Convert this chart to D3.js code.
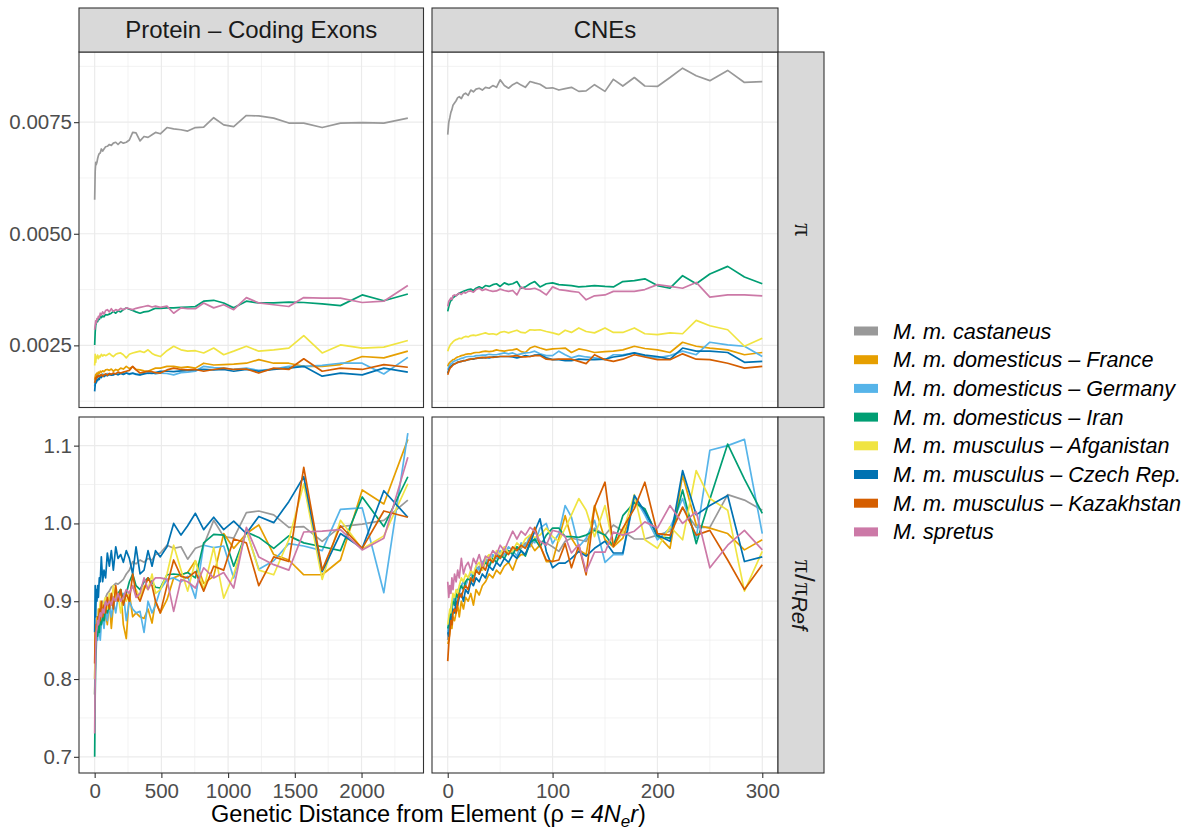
<!DOCTYPE html>
<html>
<head>
<meta charset="utf-8">
<script src="https://cdn.jsdelivr.net/npm/d3@7"></script>
<style>
  body { margin: 0; background: #fff; }
  text { font-family: "Liberation Sans", Arial, Helvetica, sans-serif; }
</style>
</head>
<body>
<svg id="chart" width="1189" height="830"></svg>
<script>
// species, in legend order
var species = ["M. m. castaneus", "M. m. domesticus \u2013 France", "M. m. domesticus \u2013 Germany",
  "M. m. domesticus \u2013 Iran", "M. m. musculus \u2013 Afganistan", "M. m. musculus \u2013 Czech Rep.",
  "M. m. musculus \u2013 Kazakhstan", "M. spretus"];
var colours = ["#999999", "#E69F00", "#56B4E9", "#009E73", "#F0E442", "#0072B2", "#D55E00", "#CC79A7"];

var facetCols = ["Protein \u2013 Coding Exons", "CNEs"];

// genetic distance (rho = 4Ner) of each bin
var distExons = [0, 4, 8, 12, 17, 22, 28, 35, 42, 50, 60, 70, 82, 95, 110, 125, 140, 158, 175, 195,
  215, 237, 260, 285, 310, 340, 370, 400, 430, 456, 492, 542, 592, 647, 697, 755, 817, 892, 967, 1042,
  1137, 1230, 1342, 1455, 1567, 1705, 1842, 2005, 2167, 2347];
var distCNEs = [0, 1, 2, 3, 4, 5, 6.5, 8, 9.5, 11, 13, 15, 17, 19.5, 22, 24.5, 27, 30, 33, 36,
  39.5, 43, 46.5, 50, 54, 58, 62, 66, 70, 74, 78.5, 83, 88, 94, 100, 106, 112, 118, 125, 132,
  140, 150, 158, 167, 178, 188, 200, 212, 224, 237, 250, 267, 283, 300];

// pi, protein-coding exons (rows follow species order)
var piExons = [
  [0.00576,0.0064,0.0066,0.00655,0.0066,0.00668,0.00675,0.0068,0.00681,0.0069,0.00685,0.0069,0.00695,0.00696,0.007,0.00698,0.00703,0.00705,0.007,0.00706,0.00703,0.00705,0.0071,0.00727,0.00726,0.00708,0.00718,0.00716,0.00722,0.00727,0.00724,0.00738,0.00735,0.00733,0.0073,0.00738,0.00739,0.0076,0.00744,0.0074,0.00765,0.00764,0.00759,0.00748,0.00748,0.00738,0.00748,0.00749,0.00748,0.00759],
  [0.00173,0.0018,0.00185,0.00182,0.00188,0.00185,0.0019,0.00187,0.00192,0.0019,0.00193,0.00191,0.00195,0.00196,0.00194,0.00197,0.00192,0.00196,0.00194,0.00199,0.00197,0.00203,0.00198,0.00202,0.00196,0.00195,0.00193,0.00192,0.00196,0.00199,0.00199,0.00203,0.00203,0.002,0.00202,0.00199,0.0021,0.00206,0.00207,0.00208,0.0021,0.00218,0.0021,0.0021,0.00203,0.00203,0.00207,0.00225,0.00222,0.00237],
  [0.00158,0.0017,0.00176,0.00174,0.00181,0.00179,0.00183,0.00181,0.00184,0.00182,0.00186,0.00183,0.00185,0.00187,0.00184,0.00186,0.00184,0.00187,0.00185,0.00188,0.00186,0.00188,0.00185,0.00187,0.00186,0.00184,0.00188,0.00187,0.00189,0.00186,0.00188,0.00187,0.00184,0.00189,0.0019,0.00192,0.00203,0.002,0.00199,0.00196,0.00199,0.00194,0.00197,0.00203,0.00203,0.00205,0.0021,0.0021,0.00186,0.00223],
  [0.00251,0.0028,0.00295,0.003,0.00307,0.00303,0.0031,0.00308,0.00315,0.00312,0.00316,0.00314,0.00319,0.00318,0.0032,0.00322,0.00326,0.00322,0.00327,0.00325,0.0033,0.00334,0.00331,0.00328,0.00325,0.00322,0.00325,0.00326,0.0033,0.00333,0.00333,0.00334,0.00334,0.00335,0.00336,0.00337,0.00349,0.00351,0.00345,0.00334,0.00349,0.00345,0.00345,0.00347,0.00346,0.00343,0.00339,0.00363,0.0035,0.00365],
  [0.00205,0.0023,0.00212,0.00225,0.00222,0.00228,0.0022,0.00226,0.00224,0.0023,0.00226,0.00229,0.00227,0.00229,0.00232,0.00228,0.00225,0.0023,0.00232,0.00233,0.00229,0.00222,0.0023,0.00233,0.00235,0.00237,0.00234,0.0024,0.00232,0.00228,0.00225,0.00238,0.00248,0.0024,0.00237,0.00238,0.00233,0.00244,0.00229,0.00237,0.00248,0.00237,0.0024,0.00244,0.00272,0.00233,0.00251,0.00244,0.00246,0.00261],
  [0.00147,0.00162,0.00168,0.00166,0.00173,0.00171,0.00176,0.00174,0.00181,0.00178,0.00182,0.0018,0.00183,0.00182,0.00185,0.00183,0.00184,0.00186,0.00184,0.00187,0.00185,0.00188,0.00186,0.00188,0.00185,0.00184,0.00186,0.00188,0.00187,0.00189,0.00192,0.00192,0.00191,0.00193,0.00194,0.00195,0.00196,0.00195,0.00196,0.00192,0.00196,0.00192,0.00196,0.00199,0.00203,0.00181,0.00188,0.00184,0.00199,0.0019],
  [0.00166,0.00172,0.00178,0.00175,0.00181,0.00179,0.00183,0.0018,0.00182,0.00185,0.00181,0.00184,0.00186,0.00183,0.00187,0.00185,0.00188,0.00186,0.0019,0.00188,0.0019,0.00192,0.00194,0.00203,0.00195,0.00188,0.0019,0.00192,0.00191,0.00189,0.00188,0.00195,0.00199,0.00196,0.00195,0.00196,0.00192,0.00196,0.00199,0.00196,0.00197,0.00188,0.00199,0.00196,0.0022,0.00192,0.00199,0.00196,0.00207,0.00201],
  [0.00285,0.00295,0.00305,0.003,0.0031,0.00307,0.00315,0.00312,0.00322,0.00318,0.00325,0.0032,0.00328,0.0033,0.00325,0.00332,0.00326,0.0033,0.00328,0.00333,0.0033,0.00334,0.00332,0.0033,0.00333,0.00335,0.00337,0.00339,0.00336,0.00338,0.00335,0.00338,0.00322,0.00334,0.00332,0.00332,0.00345,0.00334,0.00341,0.0033,0.00357,0.00345,0.00341,0.00337,0.00357,0.00356,0.00356,0.00346,0.00349,0.00384]
];

// pi / pi_Ref, protein-coding exons
var relExons = [
  [0.80,0.84,0.86,0.87,0.88,0.875,0.89,0.885,0.895,0.89,0.9,0.896,0.905,0.91,0.913,0.918,0.92,0.923,0.922,0.925,0.928,0.935,0.94,0.951,0.948,0.953,0.95,0.955,0.953,0.96,0.962,0.972,0.968,0.97,0.954,0.968,0.972,1.004,0.983,0.981,1.014,1.016,1.011,0.995,0.996,0.977,0.996,0.999,1.004,1.03],
  [0.78,0.83,0.86,0.85,0.87,0.86,0.88,0.875,0.89,0.88,0.895,0.87,0.885,0.87,0.9,0.865,0.895,0.91,0.9,0.915,0.87,0.852,0.91,0.88,0.885,0.88,0.878,0.89,0.872,0.9,0.885,0.902,0.93,0.934,0.937,0.952,0.923,0.932,0.987,0.968,0.987,0.998,0.96,0.953,0.934,0.934,0.953,1.043,1.025,1.108],
  [0.78,0.81,0.83,0.84,0.86,0.85,0.87,0.86,0.85,0.87,0.88,0.865,0.89,0.875,0.895,0.88,0.9,0.885,0.905,0.9,0.91,0.875,0.9,0.89,0.885,0.887,0.86,0.9,0.885,0.895,0.915,0.928,0.93,0.925,0.932,0.904,0.972,0.969,0.971,0.93,0.991,0.941,0.952,0.974,0.971,0.965,1.018,1.02,0.911,1.116],
  [0.70,0.78,0.83,0.85,0.86,0.855,0.87,0.86,0.875,0.87,0.88,0.875,0.89,0.885,0.895,0.9,0.905,0.9,0.91,0.915,0.9,0.91,0.925,0.935,0.92,0.915,0.925,0.93,0.925,0.918,0.917,0.934,0.935,0.934,0.937,0.93,0.975,0.986,0.985,0.945,0.989,0.982,0.968,0.984,0.975,0.97,0.965,1.034,0.996,1.06],
  [0.80,0.84,0.86,0.87,0.88,0.87,0.89,0.885,0.9,0.89,0.895,0.9,0.905,0.89,0.91,0.895,0.92,0.9,0.91,0.885,0.905,0.9,0.91,0.92,0.915,0.905,0.92,0.915,0.935,0.91,0.915,0.935,0.972,0.94,0.913,0.952,0.915,0.969,0.904,0.934,0.991,0.94,0.934,0.979,1.051,0.928,1.004,0.967,0.984,1.051],
  [0.86,0.92,0.88,0.915,0.90,0.92,0.905,0.93,0.925,0.957,0.925,0.94,0.93,0.962,0.945,0.965,0.94,0.97,0.955,0.96,0.95,0.965,0.955,0.935,0.97,0.935,0.94,0.965,0.945,0.965,0.957,0.97,1.0,0.985,0.997,1.013,0.992,1.008,0.992,1.003,0.987,1.009,1.001,1.028,1.06,0.938,0.987,0.968,1.042,1.008],
  [0.82,0.86,0.85,0.87,0.865,0.88,0.87,0.89,0.875,0.9,0.88,0.895,0.885,0.905,0.89,0.91,0.89,0.92,0.9,0.915,0.895,0.91,0.9,0.935,0.91,0.9,0.915,0.93,0.92,0.9,0.885,0.92,0.953,0.932,0.93,0.938,0.913,0.945,0.94,0.98,0.975,0.92,0.957,0.951,1.072,0.94,0.997,0.968,1.016,1.008],
  [0.73,0.80,0.84,0.86,0.865,0.875,0.87,0.88,0.885,0.88,0.89,0.885,0.9,0.895,0.9,0.895,0.905,0.9,0.91,0.9,0.905,0.915,0.91,0.92,0.905,0.91,0.93,0.915,0.925,0.93,0.93,0.928,0.887,0.928,0.925,0.917,0.943,0.93,0.937,0.917,0.995,0.957,0.947,0.94,0.989,0.99,0.992,0.966,0.981,1.085]
];

// pi, CNEs
var piCNEs = [
  [0.00722,0.0075,0.0076,0.00772,0.00778,0.00788,0.00793,0.00798,0.00805,0.00807,0.00803,0.00812,0.00815,0.0081,0.00822,0.00818,0.00824,0.00826,0.00822,0.00828,0.00826,0.00832,0.00828,0.00845,0.00832,0.00826,0.00834,0.00839,0.00833,0.00828,0.00841,0.00838,0.00835,0.00826,0.00827,0.00822,0.00825,0.00828,0.00819,0.0082,0.00834,0.00819,0.00846,0.00831,0.0085,0.00831,0.0083,0.0085,0.00871,0.00854,0.00843,0.00866,0.00839,0.00841],
  [0.00203,0.00209,0.00212,0.00214,0.00216,0.00218,0.00219,0.00222,0.00224,0.00225,0.00227,0.00228,0.0023,0.00231,0.00231,0.00233,0.00234,0.00234,0.00236,0.00237,0.00236,0.00237,0.0024,0.00238,0.00237,0.00239,0.0024,0.00242,0.00236,0.00234,0.00244,0.00248,0.00244,0.0024,0.00242,0.00243,0.00244,0.00234,0.00242,0.00239,0.00234,0.00236,0.00237,0.0024,0.00248,0.00243,0.0024,0.00234,0.00257,0.00248,0.00244,0.0024,0.00229,0.00234],
  [0.00195,0.00201,0.00206,0.00209,0.0021,0.00213,0.00215,0.00216,0.00218,0.00219,0.00221,0.00222,0.00224,0.00225,0.00225,0.00225,0.00227,0.00227,0.00228,0.00228,0.0023,0.00229,0.00229,0.00231,0.00233,0.00231,0.00233,0.00229,0.00231,0.00233,0.00234,0.00237,0.00231,0.00227,0.00227,0.00237,0.00229,0.00222,0.00227,0.00224,0.00222,0.00218,0.00229,0.00229,0.00233,0.00225,0.00222,0.00227,0.00237,0.00229,0.00257,0.00251,0.00248,0.00225],
  [0.00326,0.00337,0.00345,0.0035,0.00352,0.00357,0.00359,0.00362,0.00364,0.00367,0.00369,0.00371,0.00373,0.00375,0.00376,0.00373,0.00378,0.00381,0.00378,0.00384,0.00382,0.00386,0.00388,0.00382,0.0039,0.00386,0.00388,0.00393,0.00378,0.00381,0.00388,0.00393,0.00381,0.00388,0.0039,0.00386,0.00385,0.00384,0.00381,0.00382,0.00384,0.00382,0.00381,0.00393,0.00395,0.00399,0.00384,0.00378,0.00406,0.00388,0.0041,0.00427,0.00403,0.00388],
  [0.00237,0.00244,0.00249,0.00253,0.00255,0.00258,0.00261,0.00263,0.00264,0.00266,0.00265,0.00268,0.0027,0.00269,0.00272,0.00273,0.00272,0.00274,0.00276,0.00278,0.00275,0.00276,0.00274,0.00279,0.00281,0.00278,0.00281,0.00284,0.00279,0.00278,0.00285,0.00284,0.00285,0.00281,0.00278,0.00274,0.00284,0.00279,0.00289,0.00281,0.00278,0.00289,0.00279,0.00279,0.00289,0.00276,0.00274,0.00278,0.00276,0.00306,0.00294,0.00285,0.00248,0.00266],
  [0.00188,0.00195,0.002,0.00203,0.00205,0.00207,0.00209,0.0021,0.00212,0.00213,0.00214,0.00216,0.00216,0.00218,0.00219,0.00219,0.00221,0.00222,0.00222,0.00223,0.00222,0.00224,0.00224,0.00225,0.00225,0.00225,0.00224,0.00222,0.00224,0.00227,0.00225,0.00228,0.00229,0.00222,0.00218,0.00218,0.00216,0.00216,0.00219,0.00218,0.00218,0.00219,0.00224,0.00227,0.00233,0.00228,0.00225,0.00219,0.00244,0.00237,0.00237,0.00234,0.00212,0.00214],
  [0.00184,0.00192,0.00198,0.00201,0.00203,0.00206,0.00208,0.0021,0.00212,0.00213,0.00214,0.00215,0.00216,0.00218,0.00219,0.0022,0.00221,0.00222,0.00223,0.00222,0.00224,0.00223,0.00224,0.00225,0.00225,0.00225,0.00226,0.00227,0.00224,0.00224,0.00225,0.00227,0.00227,0.00219,0.00218,0.00219,0.00219,0.00219,0.00214,0.00209,0.00229,0.00218,0.00214,0.00219,0.00229,0.00224,0.00218,0.00218,0.00231,0.00219,0.00218,0.0021,0.00199,0.00203],
  [0.00337,0.00349,0.00352,0.00356,0.00353,0.00361,0.00363,0.00361,0.00365,0.00367,0.00364,0.00369,0.00367,0.00371,0.00372,0.00369,0.00375,0.00378,0.00373,0.00376,0.00373,0.00371,0.00372,0.00376,0.00373,0.00371,0.00373,0.00363,0.00381,0.00376,0.00376,0.00378,0.00373,0.00363,0.00381,0.00375,0.00373,0.00371,0.00369,0.00352,0.00361,0.00363,0.00371,0.00371,0.00371,0.00375,0.00386,0.00382,0.00378,0.00391,0.00358,0.00363,0.00363,0.00361]
];

// pi / pi_Ref, CNEs
var relCNEs = [
  [0.85,0.87,0.88,0.89,0.9,0.895,0.905,0.91,0.915,0.912,0.92,0.925,0.92,0.93,0.935,0.93,0.94,0.945,0.94,0.95,0.955,0.95,0.958,0.955,0.96,0.965,0.962,0.97,0.968,0.975,0.97,0.98,0.977,0.975,0.97,0.964,0.977,0.981,0.979,0.977,0.994,0.985,0.998,0.99,0.98,0.98,0.985,0.99,1.02,0.995,0.995,1.037,1.03,1.017],
  [0.845,0.85,0.86,0.87,0.865,0.88,0.875,0.885,0.895,0.88,0.9,0.89,0.905,0.9,0.91,0.895,0.915,0.908,0.92,0.925,0.935,0.93,0.94,0.935,0.945,0.95,0.94,0.955,0.96,0.96,0.975,0.965,0.972,0.951,0.951,0.981,1.01,0.981,0.966,0.96,1.023,0.979,0.97,0.981,1.027,1.017,0.985,0.968,1.062,0.998,0.994,0.987,0.966,0.979],
  [0.86,0.875,0.87,0.89,0.885,0.9,0.905,0.9,0.915,0.91,0.92,0.925,0.92,0.93,0.935,0.93,0.945,0.94,0.95,0.955,0.945,0.96,0.955,0.965,0.96,0.97,0.965,0.958,0.975,0.97,0.985,0.975,0.994,1.0,0.974,0.987,1.023,1.008,0.97,0.981,1.004,0.95,0.96,0.96,1.034,1.011,0.979,0.994,1.032,0.981,1.094,1.1,1.108,0.987],
  [0.865,0.87,0.885,0.88,0.895,0.9,0.895,0.91,0.905,0.915,0.92,0.915,0.925,0.93,0.925,0.935,0.94,0.935,0.945,0.95,0.944,0.955,0.95,0.96,0.955,0.965,0.96,0.97,0.965,0.958,0.975,0.98,0.97,0.985,0.994,0.994,0.983,0.983,0.982,0.985,0.991,0.985,0.971,1.01,1.027,1.019,0.983,0.981,1.043,0.974,1.031,1.102,1.057,1.013],
  [0.87,0.88,0.89,0.885,0.9,0.91,0.905,0.915,0.91,0.92,0.93,0.925,0.935,0.93,0.94,0.935,0.945,0.95,0.94,0.955,0.96,0.95,0.965,0.96,0.97,0.962,0.965,0.975,0.97,0.98,0.985,0.982,0.985,0.994,0.983,0.977,0.994,1.011,1.032,1.017,0.983,1.023,0.97,0.989,1.037,0.979,0.968,0.996,0.979,1.068,1.032,1.017,0.913,0.964],
  [0.86,0.855,0.87,0.88,0.875,0.89,0.885,0.9,0.895,0.905,0.91,0.9,0.915,0.91,0.925,0.92,0.93,0.925,0.935,0.93,0.945,0.94,0.95,0.945,0.955,0.95,0.96,0.955,0.965,0.96,0.975,0.99,1.006,0.964,0.943,0.949,0.949,0.955,0.964,0.958,0.968,0.977,0.962,0.962,1.036,1.015,0.985,0.977,1.068,1.011,1.023,1.036,0.951,0.957],
  [0.823,0.845,0.86,0.875,0.87,0.885,0.89,0.885,0.9,0.91,0.905,0.915,0.92,0.915,0.93,0.925,0.94,0.935,0.945,0.94,0.955,0.95,0.96,0.955,0.965,0.96,0.97,0.965,0.972,0.968,0.98,0.995,0.972,0.953,0.951,0.953,0.974,0.943,0.972,0.934,1.021,1.053,0.97,0.994,1.019,1.053,0.987,0.985,1.021,0.985,0.991,0.953,0.915,0.947],
  [0.925,0.905,0.92,0.91,0.93,0.915,0.935,0.925,0.94,0.93,0.955,0.935,0.945,0.95,0.94,0.955,0.948,0.96,0.945,0.958,0.955,0.965,0.96,0.972,0.965,0.978,0.99,0.98,0.99,0.985,0.995,0.99,0.977,0.972,0.991,0.989,0.983,0.962,0.973,0.938,0.963,0.963,0.989,0.985,0.99,1.002,0.994,1.023,1.0,1.015,0.943,0.972,0.991,0.966]
];

// axis ticks
var xTicksExons = [0, 500, 1000, 1500, 2000];
var xTicksCNEs = [0, 100, 200, 300];
var yTicksPi = [0.0025, 0.0050, 0.0075];
var yTicksRel = [0.7, 0.8, 0.9, 1.0, 1.1];

var svg = d3.select("#chart");

// panel geometry
var colX = [[79, 423.5], [432, 778]];
var rowY = [[52, 407.5], [417, 773]];
var stripTop = 8, stripRight = 824;

function padded(vals) {
  var e = d3.extent(vals), r = e[1] - e[0];
  return [e[0] - 0.05 * r, e[1] + 0.05 * r];
}

var xScales = [
  d3.scaleLinear().domain(padded(distExons)).range(colX[0]),
  d3.scaleLinear().domain(padded(distCNEs)).range(colX[1])
];
var yScales = [
  d3.scaleLinear().domain(padded(piExons.flat().concat(piCNEs.flat()))).range([rowY[0][1], rowY[0][0]]),
  d3.scaleLinear().domain(padded(relExons.flat().concat(relCNEs.flat()))).range([rowY[1][1], rowY[1][0]])
];
var xTicks = [xTicksExons, xTicksCNEs];
var yTicks = [yTicksPi, yTicksRel];
var values = [[piExons, piCNEs], [relExons, relCNEs]];
var dists = [distExons, distCNEs];

function midpoints(t, dom) {
  var step = t[1] - t[0], out = [];
  for (var v = t[0] - step / 2; v <= dom[1]; v += step) {
    if (v >= dom[0]) out.push(v);
  }
  return out;
}

for (var r = 0; r < 2; r++) {
  for (var c = 0; c < 2; c++) {
    var xs = xScales[c], ys = yScales[r];
    var g = svg.append("g");
    var x0 = colX[c][0], x1 = colX[c][1], y0 = rowY[r][0], y1 = rowY[r][1];

    g.append("rect").attr("x", x0).attr("y", y0).attr("width", x1 - x0).attr("height", y1 - y0)
      .attr("fill", "#ffffff");

    // minor grid
    midpoints(xTicks[c], xs.domain()).forEach(function (v) {
      g.append("line").attr("x1", xs(v)).attr("x2", xs(v)).attr("y1", y0).attr("y2", y1)
        .attr("stroke", "#ebebeb").attr("stroke-width", 0.6);
    });
    midpoints(yTicks[r], ys.domain()).forEach(function (v) {
      g.append("line").attr("x1", x0).attr("x2", x1).attr("y1", ys(v)).attr("y2", ys(v))
        .attr("stroke", "#ebebeb").attr("stroke-width", 0.6);
    });
    // major grid
    xTicks[c].forEach(function (v) {
      g.append("line").attr("x1", xs(v)).attr("x2", xs(v)).attr("y1", y0).attr("y2", y1)
        .attr("stroke", "#ebebeb").attr("stroke-width", 1.2);
    });
    yTicks[r].forEach(function (v) {
      g.append("line").attr("x1", x0).attr("x2", x1).attr("y1", ys(v)).attr("y2", ys(v))
        .attr("stroke", "#ebebeb").attr("stroke-width", 1.2);
    });

    var rowsData = values[r][c];
    var d = dists[c];
    rowsData.forEach(function (row, i) {
      if (row.length !== d.length) throw new Error("length mismatch r" + r + " c" + c + " s" + i + ": " + row.length);
    });
    var line = d3.line()
      .x(function (p) { return xs(p[0]); })
      .y(function (p) { return ys(p[1]); });

    g.selectAll("path.series")
      .data(rowsData)
      .enter().append("path")
      .attr("class", "series")
      .attr("d", function (row) { return line(d3.zip(d, row)); })
      .attr("fill", "none")
      .attr("stroke", function (row, i) { return colours[i]; })
      .attr("stroke-width", 1.7)
      .attr("stroke-linejoin", "round");

    g.append("rect").attr("x", x0).attr("y", y0).attr("width", x1 - x0).attr("height", y1 - y0)
      .attr("fill", "none").attr("stroke", "#333333").attr("stroke-width", 1.1);
  }
}

// y axes
[0, 1].forEach(function (r) {
  var ax = svg.append("g")
    .attr("transform", "translate(" + colX[0][0] + ",0)")
    .call(d3.axisLeft(yScales[r]).tickValues(yTicks[r]).tickSize(5).tickPadding(2)
      .tickFormat(d3.format(r === 0 ? ".4f" : ".1f")));
  ax.select(".domain").remove();
  ax.selectAll(".tick line").attr("stroke", "#333333").attr("stroke-width", 1.1);
  ax.selectAll(".tick text").attr("fill", "#4d4d4d")
    .style("font-family", "'Liberation Sans', Arial, sans-serif").style("font-size", "20.5px");
});

// x axes
[0, 1].forEach(function (c) {
  var ax = svg.append("g")
    .attr("transform", "translate(0," + rowY[1][1] + ")")
    .call(d3.axisBottom(xScales[c]).tickValues(xTicks[c]).tickSize(5).tickPadding(5)
      .tickFormat(d3.format("d")));
  ax.select(".domain").remove();
  ax.selectAll(".tick line").attr("stroke", "#333333").attr("stroke-width", 1.1);
  ax.selectAll(".tick text").attr("fill", "#4d4d4d")
    .style("font-family", "'Liberation Sans', Arial, sans-serif").style("font-size", "20.5px");
});

// top strips
facetCols.forEach(function (label, c) {
  svg.append("rect").attr("x", colX[c][0]).attr("y", stripTop)
    .attr("width", colX[c][1] - colX[c][0]).attr("height", rowY[0][0] - stripTop)
    .attr("fill", "#d9d9d9").attr("stroke", "#333333").attr("stroke-width", 1.1);
  svg.append("text").attr("x", (colX[c][0] + colX[c][1]) / 2).attr("y", (stripTop + rowY[0][0]) / 2)
    .attr("dy", "0.35em").attr("text-anchor", "middle").attr("fill", "#1a1a1a")
    .style("font-size", "24px").text(label);
});

// right strips
[0, 1].forEach(function (r) {
  svg.append("rect").attr("x", colX[1][1]).attr("y", rowY[r][0])
    .attr("width", stripRight - colX[1][1]).attr("height", rowY[r][1] - rowY[r][0])
    .attr("fill", "#d9d9d9").attr("stroke", "#333333").attr("stroke-width", 1.1);
});
var cxStrip = (colX[1][1] + stripRight) / 2;
svg.append("text")
  .attr("transform", "translate(" + (cxStrip - 6) + "," + ((rowY[0][0] + rowY[0][1]) / 2) + ") rotate(90)")
  .attr("text-anchor", "middle").attr("fill", "#1a1a1a")
  .style("font-family", "'Liberation Serif', 'Times New Roman', serif").style("font-size", "26px").text("\u03c0");
var relLab = svg.append("text")
  .attr("transform", "translate(" + (cxStrip - 6) + "," + ((rowY[1][0] + rowY[1][1]) / 2) + ") rotate(90)")
  .attr("text-anchor", "middle").attr("fill", "#1a1a1a").style("font-size", "24px");
relLab.append("tspan").style("font-family", "'Liberation Serif', serif").style("font-size", "26px").text("\u03c0");
relLab.append("tspan").attr("dx", 1).style("font-size", "28px").text("/");
relLab.append("tspan").attr("dx", 1).style("font-family", "'Liberation Serif', serif").style("font-size", "26px").text("\u03c0");
relLab.append("tspan").attr("dy", 3).style("font-style", "italic").style("font-size", "22px").text("Ref");

// x axis title
var title = svg.append("text")
  .attr("x", (colX[0][0] + colX[1][1]) / 2).attr("y", 822)
  .attr("text-anchor", "middle").attr("fill", "#000000").style("font-size", "23.5px");
title.append("tspan").text("Genetic Distance from Element (\u03c1 = ");
title.append("tspan").style("font-style", "italic").text("4N");
title.append("tspan").attr("dy", 5).style("font-style", "italic").style("font-size", "17px").text("e");
title.append("tspan").attr("dy", -5).style("font-style", "italic").text("r");
title.append("tspan").text(")");

// legend
var legend = svg.append("g").attr("transform", "translate(854,331)");
species.forEach(function (name, i) {
  var row = legend.append("g").attr("transform", "translate(0," + (i * 28.7) + ")");
  row.append("rect").attr("x", 0).attr("y", -4.5).attr("width", 24).attr("height", 9)
    .attr("fill", colours[i]);
  row.append("text").attr("x", 39).attr("y", 0).attr("dy", "0.35em")
    .style("font-style", "italic").style("font-size", "21.6px").attr("fill", "#000000").text(name);
});
</script>
</body>
</html>
